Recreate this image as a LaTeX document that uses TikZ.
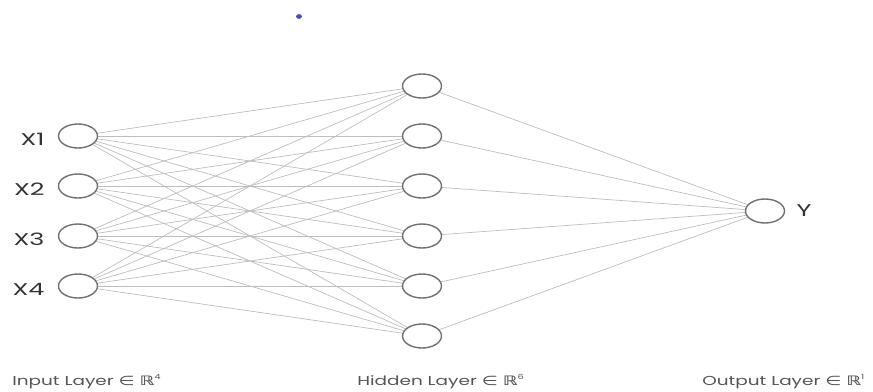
\documentclass[tikz,border=0pt]{standalone}
\usepackage{fontspec}
\setmainfont{Poppins}
\newfontfamily\symfont{DejaVu Sans}
\usetikzlibrary{shapes.geometric,backgrounds}
\definecolor{edgegray}{HTML}{BDBDBD}
\definecolor{nodegray}{HTML}{707070}
\definecolor{textgray}{HTML}{333333}
\definecolor{labgray}{HTML}{555555}
\definecolor{dotblue}{HTML}{4A4AC8}
\newcommand{\realR}[1]{{\symfont\bfseries ℝ}\raisebox{0.45em}{\fontsize{7}{8}\selectfont #1}}
\begin{document}
\begin{tikzpicture}[x=1pt,y=-1pt,
  neuron/.style={draw=nodegray,line width=1.4pt,ellipse,minimum width=39pt,minimum height=24pt,inner sep=0pt,fill=white},
  conn/.style={draw=edgegray,line width=0.7pt},
  nlabel/.style={text=textgray,font=\fontsize{17}{19}\selectfont,inner sep=0pt,xscale=1.5},
  llabel/.style={text=labgray,font=\fontsize{13}{15}\selectfont,inner sep=0pt,anchor=base west,xscale=1.42}]
\useasboundingbox (0,0) rectangle (873,391);
% blue dot
\fill[dotblue] (299,16.5) ellipse (3 and 2.4);
% nodes
\foreach \i/\y in {1/136,2/186,3/236,4/286}{
  \node[neuron] (in\i) at (78,\y) {};
}
\foreach \j/\y in {1/86,2/136,3/186,4/236,5/286,6/336}{
  \node[neuron] (hid\j) at (422,\y) {};
}
\node[neuron] (out) at (765,211) {};
% connections
\begin{pgfonlayer}{background}
\foreach \i in {1,...,4}{
  \foreach \j in {1,...,6}{
    \draw[conn] (in\i) -- (hid\j);
  }
}
\foreach \j in {1,...,6}{
  \draw[conn] (hid\j) -- (out);
}
\end{pgfonlayer}
% input labels
\foreach \i in {1,...,4}{
  \node[nlabel,anchor=east] (xl\i) at ([xshift=-13pt,yshift=-3pt]in\i.west) {X\i};
}
\node[nlabel,anchor=west] (yl) at ([xshift=11pt]out.east) {Y};
% layer labels
\node[llabel] (lin) at (12,385.5) {Input Layer {\symfont∈} \realR{4}};
\node[llabel] (lhid) at (357,385.5) {Hidden Layer {\symfont∈} \realR{6}};
\node[llabel] (lout) at (702,385.5) {Output Layer {\symfont∈} \realR{1}};
\end{tikzpicture}
\end{document}
